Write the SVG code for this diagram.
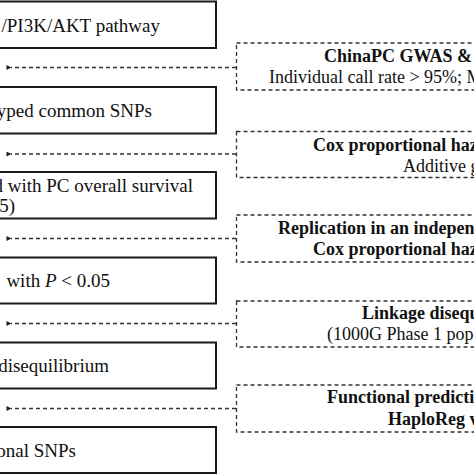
<svg xmlns="http://www.w3.org/2000/svg" width="474" height="474" viewBox="0 0 474 474">
<defs>
<style>
.box{fill:#fff;stroke:#1a1a1a;stroke-width:2}
.dbox{fill:#fff;stroke:#333;stroke-width:1.3;stroke-dasharray:4 3}
.conn{fill:none;stroke:#333;stroke-width:1.3;stroke-dasharray:4 3}
.t{font-family:"Liberation Serif","Times New Roman",serif;font-size:19px;fill:#111}
.r{font-family:"Liberation Serif","Times New Roman",serif;font-size:18px;fill:#111}
.b{font-weight:bold}
</style>
<marker id="ah" viewBox="0 0 10 10" refX="1" refY="5" markerWidth="6" markerHeight="5" orient="auto" markerUnits="userSpaceOnUse">
<path d="M10,0 L0,5 L10,10 Z" fill="#222"/>
</marker>
</defs>
<rect width="474" height="474" fill="#fff"/>
<g id="step1"><rect class="box" x="-10" y="1.5" width="226" height="46.5"/><text class="t" x="160" y="32" text-anchor="end">/PI3K/AKT pathway</text></g>
<g id="step2"><rect class="box" x="-10" y="87" width="226" height="46.5"/><text class="t" x="152" y="117" text-anchor="end">typed common SNPs</text></g>
<g id="step3"><rect class="box" x="-10" y="172" width="226" height="46.5"/><text class="t" x="193" y="192" text-anchor="end">d with PC overall survival</text><text class="t" x="15" y="212" text-anchor="end">05)</text></g>
<g id="step4"><rect class="box" x="-10" y="257.5" width="226" height="46"/><text class="t" x="110" y="287" text-anchor="end">with <tspan font-style="italic">P</tspan> &lt; 0.05</text></g>
<g id="step5"><rect class="box" x="-10" y="342.5" width="226" height="46"/><text class="t" x="109" y="372" text-anchor="end">disequilibrium</text></g>
<g id="step6"><rect class="box" x="-10" y="427" width="226" height="46"/><text class="t" x="76" y="457" text-anchor="end">onal SNPs</text></g>
<g id="filter1"><rect class="dbox" x="236.5" y="43" width="250" height="47"/><text class="r b" x="324" y="62">ChinaPC GWAS &amp;</text><text class="r" x="269" y="83">Individual call rate &gt; 95%; M</text></g>
<g id="filter2"><rect class="dbox" x="236.5" y="131.5" width="250" height="46"/><text class="r b" x="313" y="151">Cox proportional haz</text><text class="r" x="403" y="172">Additive g</text></g>
<g id="filter3"><rect class="dbox" x="236.5" y="215" width="250" height="47"/><text class="r b" x="278" y="234">Replication in an indepen</text><text class="r b" x="313" y="255">Cox proportional haz</text></g>
<g id="filter4"><rect class="dbox" x="236.5" y="301" width="250" height="46"/><text class="r b" x="362" y="319">Linkage disequ</text><text class="r" x="327" y="340">(1000G Phase 1 pop</text></g>
<g id="filter5"><rect class="dbox" x="236.5" y="385" width="250" height="47"/><text class="r b" x="327" y="403">Functional predicti</text><text class="r b" x="388" y="425">HaploReg v</text></g>
<g id="connectors">
<path class="conn" d="M236,67.5 H11" marker-end="url(#ah)"/>
<path class="conn" d="M236,154 H11" marker-end="url(#ah)"/>
<path class="conn" d="M236,238.5 H11" marker-end="url(#ah)"/>
<path class="conn" d="M236,323.5 H11" marker-end="url(#ah)"/>
<path class="conn" d="M236,408.5 H11" marker-end="url(#ah)"/>
</g>
</svg>
